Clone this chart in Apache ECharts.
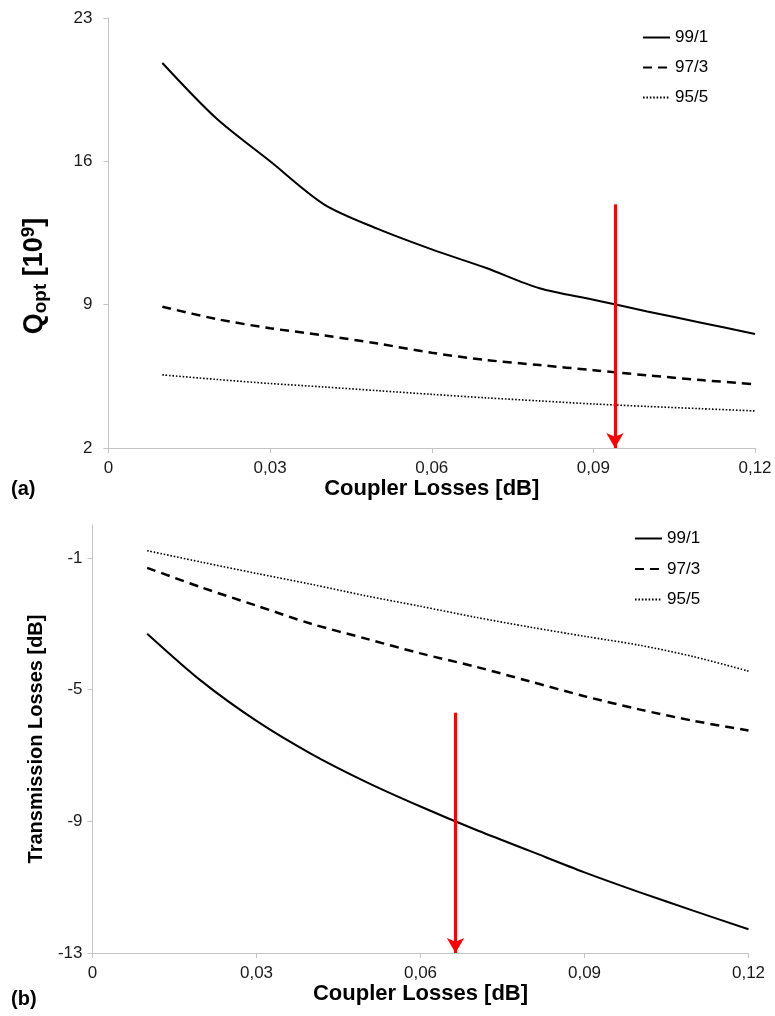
<!DOCTYPE html>
<html>
<head>
<meta charset="utf-8">
<script src="https://cdn.jsdelivr.net/npm/echarts@6/dist/echarts.min.js"></script>
<style>
html,body{margin:0;padding:0;background:#fff;}
#chart{width:775px;height:1016px;}
</style>
</head>
<body>
<div id="chart"></div>
<script>
// ---- data ----
const couplerLoss = [0.01, 0.02, 0.03, 0.04, 0.05, 0.06, 0.07, 0.08, 0.09, 0.10, 0.11, 0.12];
// (a) Q_opt [10^9]
const qOpt99 = [20.8, 18.1, 16.0, 13.9, 12.7, 11.7, 10.8, 9.8, 9.24, 8.67, 8.12, 7.57];
const qOpt97 = [8.9, 8.3, 7.85, 7.5, 7.1, 6.65, 6.3, 6.05, 5.8, 5.55, 5.32, 5.11];
const qOpt95 = [5.57, 5.35, 5.15, 4.98, 4.8, 4.62, 4.45, 4.3, 4.15, 4.03, 3.92, 3.81];
// (b) Transmission losses [dB]
const trans99 = [-3.3, -4.75, -5.95, -6.95, -7.8, -8.55, -9.25, -9.9, -10.55, -11.15, -11.72, -12.28];
const trans97 = [-1.3, -1.9, -2.45, -3.0, -3.45, -3.9, -4.3, -4.75, -5.2, -5.6, -5.95, -6.24];
const trans95 = [-0.78, -1.13, -1.47, -1.8, -2.15, -2.47, -2.8, -3.1, -3.38, -3.65, -4.0, -4.44];
// tick values
const xTicks = [0, 0.03, 0.06, 0.09, 0.12];
const yTicksA = [2, 9, 16, 23];
const yTicksB = [-13, -9, -5, -1];
// red arrows (x position, start value, end value)
const arrowA = {x: 0.094, from: 13.9, to: 2};
const arrowB = {x: 0.0664, from: -5.7, to: -13};
const seriesNames = ['99/1', '97/3', '95/5'];

const pairs = (ys) => couplerLoss.map((x, i) => [x, ys[i]]);

const FONT = '"Liberation Sans", Arial, sans-serif';
const labelColor = '#1a1a1a';
const axisGrey = '#c4c4c4';

function xAxisCfg(gridIndex) {
  return {
    type: 'value', gridIndex, min: 0, max: 0.12, interval: 0.03,
    name: 'Coupler Losses [dB]', nameLocation: 'middle', nameGap: 28,
    nameTextStyle: {fontFamily: FONT, fontSize: 22, fontWeight: 'bold', color: '#000'},
    axisLine: {show: true, onZero: false, lineStyle: {color: axisGrey, width: 1}},
    axisTick: {show: true, length: 5, customValues: xTicks, lineStyle: {color: axisGrey}},
    axisLabel: {
      fontFamily: FONT, fontSize: 17, color: labelColor, margin: 12,
      customValues: xTicks,
      formatter: v => v === 0 ? '0' : v.toFixed(2).replace('.', ',')
    },
    splitLine: {show: false}
  };
}

const lineStyles = [
  {color: '#000', width: 2, type: 'solid'},
  {color: '#000', width: 2.5, type: [9, 6]},
  {color: '#000', width: 1.6, type: [1.6, 1.8]}
];

function makeSeries(name, idx, data, axisIdx, arrow) {
  const s = {
    name, type: 'line', xAxisIndex: axisIdx, yAxisIndex: axisIdx,
    data: pairs(data), symbol: 'none', smooth: 0.3,
    lineStyle: lineStyles[idx], itemStyle: {color: '#000'},
    emphasis: {disabled: true}, z: 3
  };
  if (arrow) {
    s.markLine = {
      silent: true, symbol: ['none', 'arrow'], symbolSize: [13, 15],
      label: {show: false},
      lineStyle: {color: '#ff0000', width: 3, type: 'solid'},
      data: [[{coord: [arrow.x, arrow.from]}, {coord: [arrow.x, arrow.to]}]],
      z: 5
    };
  }
  return s;
}

const legendBase = {
  data: seriesNames, orient: 'vertical', padding: 0,
  itemWidth: 27, itemHeight: 14,
  itemStyle: {opacity: 0},
  textStyle: {fontFamily: FONT, fontSize: 17, color: '#000'},
  selectedMode: false
};

const chart = echarts.init(document.getElementById('chart'), null, {renderer: 'canvas'});
chart.setOption({
  animation: false,
  backgroundColor: '#fff',
  grid: [
    {left: 108.5, right: 20, top: 18, height: 430},
    {left: 92.5, right: 26.5, top: 525, height: 428}
  ],
  legend: [
    Object.assign({}, legendBase, {left: 642, top: 29, itemGap: 13}),
    Object.assign({}, legendBase, {left: 634, top: 530, itemGap: 13.5})
  ],
  xAxis: [xAxisCfg(0), xAxisCfg(1)],
  yAxis: [
    {
      type: 'value', gridIndex: 0, min: 2, max: 23, interval: 7,
      name: 'Q{sub|opt} [10{sup|9}]', nameLocation: 'middle', nameGap: 58,
      nameTextStyle: {
        fontFamily: FONT, fontSize: 27, fontWeight: 'bold', color: '#000',
        padding: [0, 86, 0, 0],
        rich: {
          sub: {fontFamily: FONT, fontSize: 19, fontWeight: 'bold', color: '#000', verticalAlign: 'bottom', padding: [12, 0, 0, 0]},
          sup: {fontFamily: FONT, fontSize: 19, fontWeight: 'bold', color: '#000', verticalAlign: 'top', padding: [0, 0, 8, 0]}
        }
      },
      axisLine: {show: true, lineStyle: {color: axisGrey, width: 1}},
      axisTick: {show: true, length: 5, customValues: yTicksA, lineStyle: {color: axisGrey}},
      axisLabel: {fontFamily: FONT, fontSize: 17, color: labelColor, margin: 16, customValues: yTicksA},
      splitLine: {show: false}
    },
    {
      type: 'value', gridIndex: 1, min: -13, max: 0, interval: 4,
      name: 'Transmission Losses [dB]', nameLocation: 'middle', nameGap: 46,
      nameTextStyle: {fontFamily: FONT, fontSize: 20, fontWeight: 'bold', color: '#000'},
      axisLine: {show: true, lineStyle: {color: axisGrey, width: 1}},
      axisTick: {show: true, length: 5, customValues: yTicksB, lineStyle: {color: axisGrey}},
      axisLabel: {fontFamily: FONT, fontSize: 17, color: labelColor, margin: 10, customValues: yTicksB},
      splitLine: {show: false}
    }
  ],
  graphic: [
    {type: 'text', left: 11, top: 479, style: {text: '(a)', fontFamily: FONT, fontSize: 20, fontWeight: 'bold', fill: '#000'}},
    {type: 'text', left: 11, top: 989, style: {text: '(b)', fontFamily: FONT, fontSize: 20, fontWeight: 'bold', fill: '#000'}}
  ],
  series: [
    makeSeries('99/1', 0, qOpt99, 0, arrowA),
    makeSeries('97/3', 1, qOpt97, 0),
    makeSeries('95/5', 2, qOpt95, 0),
    makeSeries('99/1', 0, trans99, 1, arrowB),
    makeSeries('97/3', 1, trans97, 1),
    makeSeries('95/5', 2, trans95, 1)
  ]
});
</script>
</body>
</html>
